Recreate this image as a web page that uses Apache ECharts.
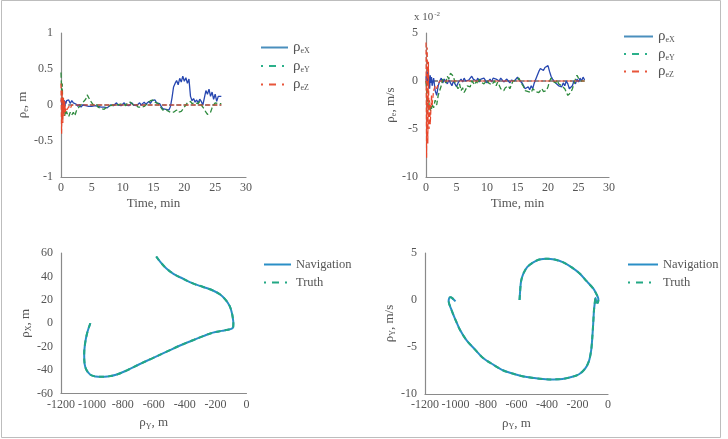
<!DOCTYPE html>
<html><head><meta charset="utf-8">
<script src="https://cdn.jsdelivr.net/npm/echarts@6/dist/echarts.min.js"></script>
<style>html,body{margin:0;padding:0;background:#fff}#c{width:728px;height:439px}</style>
</head><body><div id="c"></div>
<script>
// ---- data ----
const timeMin = [0,0.1,0.2,0.3,0.4,0.5,0.6,0.7,0.8,0.9,
1,1.25,1.5,1.75, 2,2.25,2.5,2.75, 3,3.25,3.5,3.75, 4,4.25,4.5,4.75, 5,5.25,5.5,5.75,
6,6.25,6.5,6.75, 7,7.25,7.5,7.75, 8,8.25,8.5,8.75, 9,9.25,9.5,9.75, 10,10.25,10.5,10.75,
11,11.25,11.5,11.75, 12,12.25,12.5,12.75, 13,13.25,13.5,13.75, 14,14.25,14.5,14.75,
15,15.25,15.5,15.75, 16,16.25,16.5,16.75, 17,17.25,17.5,17.75, 18,18.25,18.5,18.75,
19,19.25,19.5,19.75, 20,20.25,20.5,20.75, 21,21.25,21.5,21.75, 22,22.25,22.5,22.75,
23,23.25,23.5,23.75, 24,24.25,24.5,24.75, 25,25.25,25.5,25.75, 26];

// position errors, m
const posErrX = [0.05,0.08,-0.02,0.06,0.0,0.07,-0.03,0.05,0.02,0.06,
0.04,0.07,0.02,0.06, 0.03,0.05,0.01,-0.02, 0.01,-0.03,0.0,-0.02, -0.01,-0.03,-0.02,0.0, -0.02,-0.04,-0.01,-0.03,
-0.02,0.0,-0.03,-0.05, -0.03,-0.01,-0.04,-0.02, 0.0,0.02,-0.01,0.01, 0.03,0.0,0.02,-0.01, 0.01,0.03,0.0,0.02,
-0.01,0.01,0.03,0.0, 0.02,-0.01,0.01,0.03, 0.0,0.02,0.04,0.01, 0.03,0.05,0.02,0.06,
0.04,0.07,0.03,0.05, 0.02,-0.02,-0.05,-0.03, -0.06,-0.04,-0.07,-0.02, 0.1,0.25,0.3,0.34,
0.28,0.37,0.32,0.4, 0.33,0.38,0.3,0.36, 0.12,0.06,0.09,0.04, 0.07,0.03,0.08,0.05,
0.0,0.1,0.2,0.15, 0.22,0.12,0.18,0.08, 0.15,0.05,0.12,0.1, 0.12];
const posErrY = [0.45,0.2,0.3,-0.05,-0.12,-0.08,-0.15,-0.1,-0.13,-0.09,
-0.12,-0.16,-0.1,-0.14, -0.1,-0.15,-0.08,-0.05, -0.02,0.0,0.03,0.05, 0.08,0.14,0.1,0.06, 0.03,0.0,-0.02,0.01,
-0.03,-0.02,-0.05,-0.03, -0.06,-0.04,-0.02,0.0, -0.01,0.01,0.0,0.02, 0.0,-0.02,0.01,0.0, 0.02,0.0,-0.01,0.03,
0.01,0.04,0.02,0.0, -0.02,0.0,-0.03,-0.01, -0.03,-0.05,-0.02,0.0, 0.02,0.04,0.06,0.05,
0.07,0.04,0.05,0.02, 0.0,-0.04,-0.07,-0.09, -0.05,-0.08,-0.07,-0.1, -0.08,-0.1,-0.09,-0.07,
-0.1,-0.08,-0.09,-0.06, -0.05,0.0,0.03,0.02, 0.05,0.02,0.0,0.03, 0.04,0.02,0.05,0.0,
-0.03,-0.06,-0.1,-0.13, -0.15,-0.1,-0.04,0.0, 0.03,0.05,0.02,0.04, 0.02];
const posErrZ = [0.3,-0.4,0.2,-0.25,0.1,-0.15,0.05,-0.1,-0.05,-0.08,
-0.06,-0.02,-0.05,0.0, -0.02,0.0,-0.01,0.0, 0,0,0,0, 0,0,0,0, 0,0,0,0,
0,0,0,0, 0,0,0,0, 0,0,0,0, 0,0,0,0, 0,0,0,0,
0,0,0,0, 0,0,0,0, 0,0,0,0, 0,0,0,0,
0,0,0,0, 0,0,0,0, 0,0,0,0, 0,0,0,0,
0,0,0,0, 0,0,0,0, 0,0,0,0, 0,0,0,0,
0,0,0,0, 0,0,0,0, 0,0,0,0, 0];

// velocity errors, x 10^-2 m/s
const velErrX = [0.5,-0.5,1.0,-0.3,0.8,0.2,-0.8,0.6,-0.2,0.4,
-0.5,0.3,-1.0,-1.5, -0.5,0.0,0.3,-0.2, 0.2,0.0,-0.3,0.1, -0.2,-0.5,0.0,-0.3, -0.6,-0.2,0.0,0.2,
-0.1,0.3,0.0,-0.2, 0.1,0.3,0.5,0.2, 0.4,0.0,0.3,-0.1, 0.2,0.0,0.3,0.1, -0.2,0.0,0.2,-0.1,
0.3,0.5,0.2,0.4, 0.0,0.3,0.1,-0.1, 0.0,0.2,0.0,-0.2, 0.1,0.3,0.0,0.2,
0.4,0.1,0.3,-0.2, -0.5,-0.8,-1.0,-0.6, -0.9,-0.5,-0.8,-0.2, 0.0,0.6,1.0,1.3,
1.5,1.1,1.4,1.2, 1.6,1.0,0.5,0.2, 0.4,-0.2,0.0,-0.5, -0.3,-0.6,-0.2,-0.5,
0.0,-0.3,-0.8,-1.0, -0.5,0.0,-0.3,0.2, -0.1,0.3,0.0,0.4, 0.1];
const velErrY = [0.0,-1.0,-2.0,-2.5,-3.0,-2.2,-2.8,-3.2,-2.5,-2.9,
-2.4,-2.8,-2.0,-2.5, -1.5,-1.0,-0.5,0.2, 0.3,-0.2,0.5,0.2, 0.8,1.0,0.5,-0.2, -0.5,-0.8,-0.3,-1.0,
-0.7,-1.2,-0.9,-0.5, -0.3,-0.6,0.0,-0.2, -0.4,0.0,-0.3,0.2, -0.1,0.0,-0.3,-0.1, 0.1,-0.2,0.0,-0.4,
-0.2,0.0,-0.5,-0.1, -0.3,-0.8,-0.6,-1.0, -0.7,-0.9,-0.5,-0.8, -0.4,0.0,-0.2,0.1,
0.0,0.3,-0.1,-0.3, -0.6,-1.0,-0.8,-1.1, -0.9,-1.2,-0.8,-1.0, -1.1,-0.9,-1.2,-1.0,
-0.8,-1.1,-0.9,-1.0, -0.6,0.0,0.3,0.0, 0.2,-0.2,0.1,-0.3, -0.1,-0.5,-0.3,-0.8,
-1.0,-1.5,-1.7,-1.2, -0.8,-0.3,0.2,0.6, 0.3,0.5,0.0,-0.2, 0.0];
const velErrZ = [4.0,-8.0,3.5,-6.5,2.0,-5.0,-2.0,-4.5,-3.0,-1.5,
-2.5,-1.0,-0.5,-0.8, -0.3,0.0,-0.2,0.0, 0,0,0,0, 0,0,0,0, 0,0,0,0,
0,0,0,0, 0,0,0,0, 0,0,0,0, 0,0,0,0, 0,0,0,0,
0,0,0,0, 0,0,0,0, 0,0,0,0, 0,0,0,0,
0,0,0,0, 0,0,0,0, 0,0,0,0, 0,0,0,0,
0,0,0,0, 0,0,0,0, 0,0,0,0, 0,0,0,0,
0,0,0,0, 0,0,0,0, 0,0,0,0, 0];

const truthT = [0, 26];
const truthV = [0, 0];

// trajectory (navigation == truth)
const trajPosY = [-1010,-1030,-1045,-1050,-1047,-1035,-1010,-975,-940,-900,-844,-770,-693,-610,-520,-430,-347,-280,-217,-160,-120,-95,-86,-85,-88,-95,-110,-135,-170,-217,-280,-347,-410,-470,-520,-555,-584];
const trajPosX = [0,-8,-18,-27,-35,-40,-44,-45.5,-45.8,-45.5,-44,-40,-35,-30,-24.5,-19,-14.5,-11,-8,-6.5,-5.5,-4.5,-3,0,4,9,15,20,24.5,28,31,34,38,42,47,52,57];
const phasePosY = [-580,-576,-570,-555,-530,-490,-450,-402,-350,-293,-240,-184,-140,-96,-75,-63,-68,-76,-82,-88,-92,-97,-103,-110,-125,-150,-190,-240,-300,-380,-460,-533,-610,-686,-750,-817,-870,-927,-970,-1003,-1030,-1045,-1040,-1030,-1015,-1000];
const phaseVelY = [0,1.0,2.0,2.8,3.5,4.0,4.3,4.4,4.3,4.0,3.5,2.8,2.0,1.2,0.6,0.1,-0.3,-0.2,0.2,-0.5,-1.1,-2.5,-4.0,-5.3,-6.5,-7.3,-7.9,-8.2,-8.4,-8.45,-8.35,-8.2,-7.9,-7.5,-6.9,-6.2,-5.3,-4.3,-3.2,-2.0,-0.9,-0.1,0.25,0.3,0.1,-0.15];

const timeTicks = {min:0, max:30, interval:5};
// ---- chart ----
const zip = (a, b) => a.map((v, i) => [v, b[i]]);
const FONT = '"Liberation Serif","DejaVu Serif",serif';
const TXT = '#555';
const AX = '#8a8a8a';
const cX = '#2747b0', cY = '#2e8b3e', cZ = '#e8472c';
const nav = '#2a8fc6', tru = '#22a884';
const LEG_DOT = [2, 6, 7, 6, 2, 20];

const rich = {
  r: {fontFamily: FONT, fontSize: 13, color: TXT},
  s: {fontFamily: FONT, fontSize: 8, color: TXT, padding: [7, 0, 0, 0]}
};
const legRich = {
  r: {fontFamily: FONT, fontSize: 15, color: TXT},
  s: {fontFamily: FONT, fontSize: 8, color: TXT, padding: [7, 0, 0, 0]},
  t: {fontFamily: FONT, fontSize: 12.5, color: TXT}
};
const numFmt = v => String(v);

function xAx(grid, min, max, interval, name, gap) {
  return {gridIndex: grid, type: 'value', min, max, interval,
    axisLine: {onZero: false, lineStyle: {color: AX, width: 1.2}}, axisTick: {show: false}, splitLine: {show: false},
    axisLabel: {fontFamily: FONT, fontSize: 12, color: TXT, margin: 5, formatter: numFmt},
    name, nameLocation: 'middle', nameGap: gap, nameTextStyle: {rich}};
}
function yAx(grid, min, max, interval, name, gap) {
  return {gridIndex: grid, type: 'value', min, max, interval,
    axisLine: {show: true, onZero: false, lineStyle: {color: AX, width: 1.2}}, axisTick: {show: false}, splitLine: {show: false},
    axisLabel: {fontFamily: FONT, fontSize: 12, color: TXT, margin: 8, formatter: numFmt},
    name, nameLocation: 'middle', nameGap: gap, nameTextStyle: {rich}};
}
function ln(name, x, y, data, color, type, width, z) {
  return {name, type: 'line', xAxisIndex: x, yAxisIndex: y, data, symbol: 'none', showSymbol: false,
    lineStyle: {color, type, width}, itemStyle: {color}, z: z || 2, animation: false};
}
const legFmt = n => {
  if (n.indexOf('ρ') === 0) return '{r|ρ}{s|' + n.trim().slice(1) + '}';
  return '{t|' + n.trim() + '}';
};
function leg(left, top, names, gap, w) {
  return {orient: 'vertical', left, top, padding: 0, itemGap: gap, itemWidth: w, itemHeight: 12,
    data: names.map(d => Object.assign({itemStyle: {opacity: 0}}, d)),
    formatter: legFmt, textStyle: {rich: legRich}, selectedMode: false};
}

const chart = echarts.init(document.getElementById('c'), null, {renderer: 'canvas'});
chart.setOption({
  backgroundColor: '#fff',
  animation: false,
  grid: [
    {left: 61, top: 33, width: 185, height: 144},
    {left: 426, top: 33, width: 183, height: 144},
    {left: 61, top: 253, width: 185.5, height: 140.5},
    {left: 425, top: 253, width: 183, height: 141}
  ],
  xAxis: [
    xAx(0, timeTicks.min, timeTicks.max, timeTicks.interval, '{r|Time, min}', 20),
    xAx(1, timeTicks.min, timeTicks.max, timeTicks.interval, '{r|Time, min}', 20),
    xAx(2, -1200, 0, 200, '{r|ρ}{s|Y}{r|, m}', 22),
    xAx(3, -1200, 0, 200, '{r|ρ}{s|Y}{r|, m}', 22)
  ],
  yAxis: [
    yAx(0, -1, 1, 0.5, '{r|ρ}{s|e}{r|, m}', 25),
    yAx(1, -10, 5, 5, '{r|ρ}{s|e}{r|, m/s}', 24),
    yAx(2, -60, 60, 20, '{r|ρ}{s|X}{r|, m}', 26),
    yAx(3, -10, 5, 5, '{r|ρ}{s|Y}{r|, m/s}', 24)
  ],
  legend: [
    leg(260, 40, [
      {name: 'ρeX', lineStyle: {color: '#4a8fbd', type: 'solid', width: 2}},
      {name: 'ρeY', lineStyle: {color: '#2bb08a', type: LEG_DOT, width: 2}},
      {name: 'ρeZ', lineStyle: {color: '#e8553a', type: LEG_DOT, width: 2}}], 3.5, 27),
    leg(623, 29, [
      {name: 'ρeX ', lineStyle: {color: '#4a8fbd', type: 'solid', width: 2}},
      {name: 'ρeY ', lineStyle: {color: '#2bb08a', type: LEG_DOT, width: 2}},
      {name: 'ρeZ ', lineStyle: {color: '#e8553a', type: LEG_DOT, width: 2}}], 2.5, 29),
    leg(263, 258, [
      {name: 'Navigation', lineStyle: {color: nav, type: 'solid', width: 2}},
      {name: 'Truth', lineStyle: {color: tru, type: LEG_DOT, width: 2}}], 5, 27),
    leg(627, 258, [
      {name: 'Navigation ', lineStyle: {color: nav, type: 'solid', width: 2}},
      {name: 'Truth ', lineStyle: {color: tru, type: LEG_DOT, width: 2}}], 5, 30)
  ],
  series: [
    ln('truth0', 0, 0, zip(truthT, truthV), '#222', 'dashed', 1.2, 1),
    ln('ρeX', 0, 0, zip(timeMin, posErrX), cX, 'solid', 1.3),
    ln('ρeY', 0, 0, zip(timeMin, posErrY), cY, 'dashed', 1.3),
    ln('ρeZ', 0, 0, zip(timeMin, posErrZ), cZ, 'dashed', 1.2, 3),
    ln('truth1', 1, 1, zip(truthT, truthV), '#222', 'dashed', 1.2, 1),
    ln('ρeX ', 1, 1, zip(timeMin, velErrX), cX, 'solid', 1.3),
    ln('ρeY ', 1, 1, zip(timeMin, velErrY), cY, 'dashed', 1.3),
    ln('ρeZ ', 1, 1, zip(timeMin, velErrZ), cZ, 'dashed', 1.2, 3),
    Object.assign(ln('Navigation', 2, 2, zip(trajPosY, trajPosX), nav, 'solid', 2), {smooth: 0.4}),
    Object.assign(ln('Truth', 2, 2, zip(trajPosY, trajPosX), tru, [5, 4], 2, 3), {smooth: 0.4}),
    Object.assign(ln('Navigation ', 3, 3, zip(phasePosY, phaseVelY), nav, 'solid', 2), {smooth: 0.3}),
    Object.assign(ln('Truth ', 3, 3, zip(phasePosY, phaseVelY), tru, [5, 4], 2, 3), {smooth: 0.3})
  ],
  graphic: [
    {type: 'rect', shape: {x: 1.5, y: 0.5, width: 719, height: 437}, style: {fill: 'none', stroke: '#bdbdbd', lineWidth: 1}, silent: true},
    {type: 'text', left: 414, top: 11, style: {text: '{a|x 10}{b|-2}', rich: {
      a: {fontFamily: FONT, fontSize: 11, fill: TXT},
      b: {fontFamily: FONT, fontSize: 7, fill: TXT, padding: [0, 0, 6, 1]}}}}
  ]
});
</script></body></html>
